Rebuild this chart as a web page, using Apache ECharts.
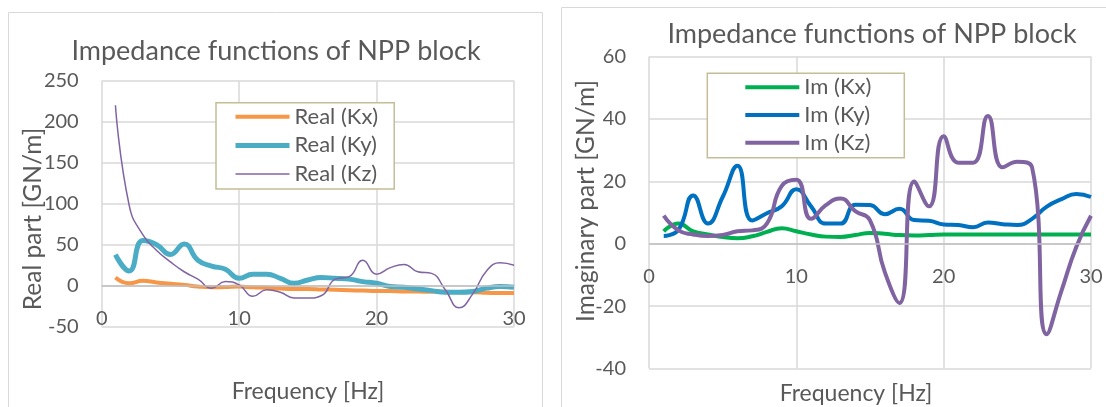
<!DOCTYPE html>
<html>
<head>
<meta charset="utf-8">
<script src="https://cdn.jsdelivr.net/npm/echarts@6/dist/echarts.min.js"></script>
<style>
  html, body { margin: 0; padding: 0; background: #fff; }
  #chart { width: 1106px; height: 407px; }
</style>
</head>
<body>
<div id="chart"></div>
<script>
// Frequency samples [Hz]
const freq = [1, 2, 3, 4, 5, 6, 7, 8, 9, 10, 11, 12, 13, 14, 15,
              16, 17, 18, 19, 20, 21, 22, 23, 24, 25, 26, 27, 28, 29, 30];

// Real part of the impedance functions [GN/m]
const realKx = [10, 3, 6, 4, 2.5, 1, -1, -2, -1.5, -1, -2, -2.5, -3.5, -4, -4,
                -4.5, -5, -5.5, -6, -6.5, -6.5, -7, -7, -7.5, -7.5, -8, -8, -8.5, -9, -9];
const realKy = [38, 18, 55, 50, 38, 51, 31, 24, 20, 9, 14, 14, 9, 3, 7,
                10, 9, 8, 5, 3, -1, -2, -4, -6, -8, -8, -7, -3, -1, -2];
const realKz = [220, 98, 62, 43, 29, 17, 8, -3, 5, 1, -13, -5, -8, -15, -15,
                -12, 8, 11, 31, 14, 22, 26, 17, 15, -5, -27, -10, 18, 28, 25];

// Imaginary part of the impedance functions [GN/m]
const imKx = [4, 6.5, 4, 3, 2.2, 1.8, 2.4, 3.8, 5, 4, 3, 2.3, 2.2, 2.8, 3.5,
              3.2, 2.8, 2.7, 2.8, 3, 3, 3, 3, 3, 3, 3, 3, 3, 3, 3];
const imKy = [2.5, 4.5, 15.5, 6.5, 15, 25, 7.5, 9.8, 12, 17.5, 12, 6.5, 6.5, 12.5, 12.4,
              9.5, 11.2, 7.6, 7.4, 6.2, 6, 5.3, 6.8, 6.3, 6, 8, 11.9, 14.3, 16, 15];
const imKz = [9, 4.3, 3, 2.5, 2.8, 4, 4.3, 6.5, 18.5, 20.5, 8, 12.4, 14.5, 10.5, 7.5,
              -9, -19, 20, 12, 34.5, 26, 26, 41, 24.5, 26.3, 24.5, -29, -15, -1, 9];

const titleText = 'Impedance functions of NPP block';
const xTitle = 'Frequency [Hz]';
const FONT = 'Lato, "Open Sans", sans-serif';
const TEXT = '#595959';
const GRID = '#d9d9d9';

function pairs(ys) { return freq.map((f, i) => [f, ys[i]]); }

// x labels sit just under the zero line, so they are pulled up from the grid bottom
function xAxisCfg(gridIndex, labelMargin) {
  return {
    type: 'value', gridIndex, min: 0, max: 30, interval: 10,
    axisLine: { show: false, onZero: false },
    axisTick: { show: false },
    axisLabel: { margin: labelMargin, color: TEXT, fontFamily: FONT, fontSize: 20 },
    splitLine: { show: true, showMinLine: true, showMaxLine: true, lineStyle: { color: GRID, width: 1.5 } }
  };
}
function yAxisCfg(gridIndex, min, max, interval) {
  return {
    type: 'value', gridIndex, min, max, interval,
    axisLine: { show: false },
    axisTick: { show: false },
    axisLabel: { margin: 23, color: TEXT, fontFamily: FONT, fontSize: 20 },
    splitLine: { show: true, showMinLine: true, showMaxLine: true, lineStyle: { color: GRID, width: 1.5 } }
  };
}
// horizontal axis line through y = 0
const zeroLine = {
  silent: true, symbol: 'none', animation: false,
  label: { show: false },
  lineStyle: { color: '#bfbfbf', width: 1.5, type: 'solid' },
  emphasis: { disabled: true },
  data: [{ yAxis: 0 }]
};
function lineSeries(name, ys, color, width, axisIndex, withZero) {
  const s = {
    name, type: 'line', data: pairs(ys),
    xAxisIndex: axisIndex, yAxisIndex: axisIndex,
    smooth: true, symbol: 'none',
    lineStyle: { color, width }, itemStyle: { color },
    emphasis: { disabled: true }
  };
  if (withZero) s.markLine = zeroLine;
  return s;
}
function legendCfg(names, widths, left, top, padding, gap) {
  return {
    orient: 'vertical', left, top, padding,
    data: names.map((name, i) => ({ name, lineStyle: { width: widths[i] } })),
    itemWidth: 54, itemHeight: 14, itemGap: gap,
    itemStyle: { opacity: 0 },
    backgroundColor: '#fff', borderColor: '#c4bd97', borderWidth: 1.5,
    textStyle: { color: TEXT, fontFamily: FONT, fontSize: 22, lineHeight: 20 },
    selectedMode: false
  };
}
function label(text, x, y, size, rotate) {
  return {
    type: 'text', x, y, rotation: rotate ? Math.PI / 2 : 0, silent: true,
    style: { text, fill: TEXT, font: size + 'px ' + FONT, align: 'center', verticalAlign: 'middle' }
  };
}

const chart = echarts.init(document.getElementById('chart'), null, { renderer: 'canvas' });
chart.setOption({
  animation: false,
  backgroundColor: '#fff',
  grid: [
    { left: 101.7, top: 80.7, width: 412.3, height: 246 },
    { left: 649, top: 56.6, width: 442, height: 312 }
  ],
  xAxis: [xAxisCfg(0, -18), xAxisCfg(1, -102)],
  yAxis: [yAxisCfg(0, -50, 250, 50), yAxisCfg(1, -40, 60, 20)],
  legend: [
    legendCfg(['Real (Kx)', 'Real (Ky)', 'Real (Kz)'], [4, 5, 1.5], 216, 102.7, [3, 16, 4, 17], 6.7),
    legendCfg(['Im (Kx)', 'Im (Ky)', 'Im (Kz)'], [4, 4, 4], 707.3, 73.3, [3, 33, 4, 36], 5.7)
  ],
  series: [
    lineSeries('Real (Kx)', realKx, '#f79646', 4, 0, true),
    lineSeries('Real (Ky)', realKy, '#4bacc6', 5, 0),
    lineSeries('Real (Kz)', realKz, '#8064a2', 1.5, 0),
    lineSeries('Im (Kx)', imKx, '#00b050', 4, 1, true),
    lineSeries('Im (Ky)', imKy, '#0070c0', 4, 1),
    lineSeries('Im (Kz)', imKz, '#8064a2', 4, 1)
  ],
  graphic: [
    // chart frames
    { type: 'rect', shape: { x: 8.5, y: 12.5, width: 534, height: 420 }, silent: true, z: -10,
      style: { fill: 'none', stroke: GRID, lineWidth: 1 } },
    { type: 'rect', shape: { x: 561.5, y: 7.5, width: 600, height: 420 }, silent: true, z: -10,
      style: { fill: 'none', stroke: GRID, lineWidth: 1 } },
    // titles
    label(titleText, 276, 51, 27),
    label(titleText, 872, 34.5, 27),
    // axis titles
    label('Real part [GN/m]', 32.8, 219, 24.5, true),
    label('Imaginary part [GN/m]', 586, 201, 24.5, true),
    label(xTitle, 308, 392, 23),
    label(xTitle, 856, 394, 23)
  ]
});
</script>
</body>
</html>
